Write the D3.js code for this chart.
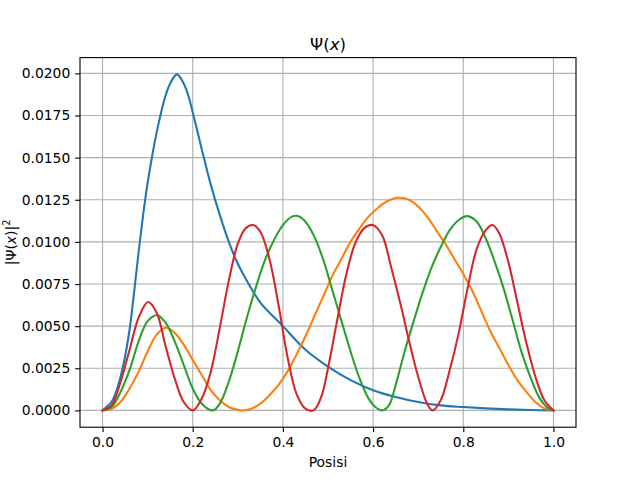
<!DOCTYPE html>
<html>
<head>
<meta charset="utf-8">
<script src="https://cdn.jsdelivr.net/npm/d3@7/dist/d3.min.js"></script>
<style>
  html, body { margin: 0; padding: 0; background: #fff; }
  svg { display: block; }
  text { font-family: "DejaVu Sans", sans-serif; }
</style>
</head>
<body>
<svg id="chart" width="640" height="480"></svg>
<script>
// ---- data ----
const titleText = "Ψ(x)";
const xLabel = "Posisi";
const xTicks = [0.0, 0.2, 0.4, 0.6, 0.8, 1.0];
const xTickLabels = ["0.0", "0.2", "0.4", "0.6", "0.8", "1.0"];
const yTicks = [0, 0.0025, 0.005, 0.0075, 0.01, 0.0125, 0.015, 0.0175, 0.02];
const yTickLabels = ["0.0000", "0.0025", "0.0050", "0.0075", "0.0100", "0.0125", "0.0150", "0.0175", "0.0200"];

const blueX = [0, 0.02, 0.03, 0.04, 0.05, 0.06, 0.07, 0.08, 0.09, 0.10, 0.11, 0.12, 0.13, 0.14, 0.15, 0.165, 0.18, 0.19, 0.20, 0.22, 0.24, 0.26, 0.28, 0.30, 0.32, 0.35, 0.40, 0.45, 0.50, 0.55, 0.60, 0.65, 0.70, 0.75, 0.80, 0.85, 0.90, 0.95, 1.0];
const blueY = [0, 0.0005, 0.0011, 0.0020, 0.0032, 0.0048, 0.0070, 0.0094, 0.0116, 0.0135, 0.0151, 0.0165, 0.0177, 0.0187, 0.0194, 0.01994, 0.0194, 0.0187, 0.0177, 0.0155, 0.0134, 0.0116, 0.0100, 0.0087, 0.0077, 0.0064, 0.0050, 0.0036, 0.0026, 0.0018, 0.0012, 0.0008, 0.0005, 0.0003, 0.0002, 0.00012, 0.00006, 0.00002, 0];

const orangeX = [0, 0.02, 0.04, 0.06, 0.08, 0.10, 0.12, 0.141, 0.16, 0.18, 0.20, 0.22, 0.24, 0.26, 0.28, 0.30, 0.315, 0.33, 0.35, 0.37, 0.39, 0.41, 0.43, 0.45, 0.47, 0.49, 0.51, 0.53, 0.55, 0.57, 0.59, 0.61, 0.63, 0.656, 0.68, 0.70, 0.72, 0.74, 0.76, 0.78, 0.80, 0.82, 0.84, 0.86, 0.88, 0.90, 0.92, 0.94, 0.96, 0.98, 1.0];
const orangeY = [0, 0.0001, 0.0005, 0.0013, 0.0023, 0.0035, 0.0045, 0.0049, 0.0046, 0.0039, 0.0030, 0.0021, 0.0012, 0.0006, 0.0002, 0.00003, 0, 0.0001, 0.0004, 0.0009, 0.0015, 0.0023, 0.0033, 0.0044, 0.0056, 0.0068, 0.0080, 0.0090, 0.0100, 0.0108, 0.0115, 0.0120, 0.0124, 0.01262, 0.0125, 0.0121, 0.0115, 0.0107, 0.0099, 0.0090, 0.0081, 0.0071, 0.0059, 0.0047, 0.0037, 0.0027, 0.0018, 0.0011, 0.0005, 0.00012, 0];

const greenX = [0, 0.02, 0.04, 0.06, 0.08, 0.10, 0.121, 0.14, 0.16, 0.18, 0.20, 0.22, 0.245, 0.26, 0.28, 0.30, 0.32, 0.34, 0.36, 0.38, 0.40, 0.42, 0.433, 0.45, 0.47, 0.49, 0.51, 0.53, 0.55, 0.57, 0.59, 0.605, 0.62, 0.635, 0.65, 0.67, 0.69, 0.71, 0.73, 0.75, 0.77, 0.79, 0.809, 0.83, 0.85, 0.87, 0.89, 0.91, 0.93, 0.95, 0.97, 0.99, 1.0];
const greenY = [0, 0.0002, 0.0011, 0.0024, 0.0041, 0.0053, 0.00565, 0.0052, 0.0041, 0.0027, 0.0013, 0.0004, 0, 0.0004, 0.0017, 0.0035, 0.0055, 0.0073, 0.0089, 0.0101, 0.0110, 0.0115, 0.01153, 0.0112, 0.0103, 0.0089, 0.0071, 0.0053, 0.0035, 0.0019, 0.0007, 0.0002, 0, 0.0003, 0.0015, 0.0035, 0.0053, 0.0070, 0.0085, 0.0097, 0.0107, 0.0113, 0.01153, 0.0112, 0.0102, 0.0088, 0.0072, 0.0053, 0.0034, 0.0019, 0.0007, 0.0001, 0];

const redX = [0, 0.02, 0.04, 0.06, 0.08, 0.101, 0.12, 0.14, 0.16, 0.18, 0.20, 0.22, 0.24, 0.26, 0.28, 0.30, 0.317, 0.334, 0.35, 0.37, 0.39, 0.41, 0.43, 0.45, 0.468, 0.485, 0.50, 0.52, 0.54, 0.56, 0.58, 0.599, 0.62, 0.64, 0.66, 0.68, 0.70, 0.72, 0.732, 0.75, 0.77, 0.79, 0.81, 0.83, 0.85, 0.865, 0.88, 0.90, 0.92, 0.94, 0.96, 0.98, 1.0];
const redY = [0, 0.0003, 0.0017, 0.0036, 0.0055, 0.00643, 0.0058, 0.0038, 0.0019, 0.0005, 0, 0.0007, 0.0023, 0.0049, 0.0077, 0.0099, 0.0108, 0.0110, 0.0106, 0.0090, 0.0063, 0.0032, 0.0010, 0.0001, 0, 0.0008, 0.0025, 0.0053, 0.0080, 0.0099, 0.0108, 0.0110, 0.0104, 0.0085, 0.0064, 0.0041, 0.0020, 0.0004, 0, 0.0006, 0.0024, 0.0046, 0.0073, 0.0096, 0.0107, 0.0110, 0.0105, 0.0088, 0.0064, 0.0040, 0.0020, 0.0006, 0];

const seriesList = [
  { name: "n1", xs: blueX, ys: blueY, color: "#1f77b4" },
  { name: "n2", xs: orangeX, ys: orangeY, color: "#ff7f0e" },
  { name: "n3", xs: greenX, ys: greenY, color: "#2ca02c" },
  { name: "n4", xs: redX, ys: redY, color: "#d62728" }
];

// ---- layout ----
const W = 640, H = 480;
const axL = 80, axR = 576, axT = 57.6, axB = 427.2;
const pt = 100 / 72;
const fs = 10 * pt;

const svg = d3.select("#chart");
svg.append("rect").attr("width", W).attr("height", H).attr("fill", "#fff");

const yMax = d3.max(blueY);
const yPad = 0.05 * yMax;
const x = d3.scaleLinear().domain([-0.05, 1.05]).range([axL, axR]);
const y = d3.scaleLinear().domain([-yPad, yMax + yPad]).range([axB, axT]);

// grid
const grid = svg.append("g");
grid.selectAll("line.gx").data(xTicks).join("line")
  .attr("x1", d => x(d)).attr("x2", d => x(d))
  .attr("y1", axT).attr("y2", axB)
  .attr("stroke", "#b0b0b0").attr("stroke-width", 0.8 * pt);
grid.selectAll("line.gy").data(yTicks).join("line")
  .attr("x1", axL).attr("x2", axR)
  .attr("y1", d => y(d)).attr("y2", d => y(d))
  .attr("stroke", "#b0b0b0").attr("stroke-width", 0.8 * pt);

// clip
svg.append("clipPath").attr("id", "clip").append("rect")
  .attr("x", axL).attr("y", axT).attr("width", axR - axL).attr("height", axB - axT);

const line = d3.line().curve(d3.curveCatmullRom.alpha(0.5));
const plot = svg.append("g").attr("clip-path", "url(#clip)");
seriesList.forEach(s => {
  const pts = s.xs.map((xv, i) => [x(xv), y(s.ys[i])]);
  plot.append("path").attr("d", line(pts))
    .attr("fill", "none").attr("stroke", s.color)
    .attr("stroke-width", 1.5 * pt).attr("stroke-linejoin", "round").attr("stroke-linecap", "square");
});

// axes
const xAxis = d3.axisBottom(x).tickValues(xTicks).tickFormat((d, i) => xTickLabels[i])
  .tickSizeInner(3.5 * pt).tickSizeOuter(0).tickPadding(3.5 * pt);
const yAxis = d3.axisLeft(y).tickValues(yTicks).tickFormat((d, i) => yTickLabels[i])
  .tickSizeInner(3.5 * pt).tickSizeOuter(0).tickPadding(3.5 * pt);

const gx = svg.append("g").attr("transform", `translate(0,${axB})`).call(xAxis);
const gy = svg.append("g").attr("transform", `translate(${axL},0)`).call(yAxis);
[gx, gy].forEach(g => {
  g.select(".domain").remove();
  g.selectAll(".tick line").attr("stroke", "#000").attr("stroke-width", 0.8 * pt);
  g.selectAll(".tick text").attr("fill", "#000").attr("font-size", fs).attr("font-family", "DejaVu Sans");
});

// spines
svg.append("rect").attr("x", axL).attr("y", axT).attr("width", axR - axL).attr("height", axB - axT)
  .attr("fill", "none").attr("stroke", "#000").attr("stroke-width", 0.8 * pt);

// title
const t = svg.append("text").attr("x", (axL + axR) / 2).attr("y", 49.5)
  .attr("text-anchor", "middle").attr("font-size", 12 * pt).attr("fill", "#000");
t.append("tspan").text("Ψ(");
t.append("tspan").attr("font-style", "italic").text("x");
t.append("tspan").text(")");

// x label
svg.append("text").attr("x", (axL + axR) / 2).attr("y", 467)
  .attr("text-anchor", "middle").attr("font-size", fs).attr("fill", "#000").text(xLabel);

// y label
const yl = svg.append("text").attr("transform", `translate(16,${(axT + axB) / 2}) rotate(-90)`)
  .attr("text-anchor", "middle").attr("font-size", fs).attr("fill", "#000");
yl.append("tspan").text("|Ψ(");
yl.append("tspan").attr("font-style", "italic").text("x");
yl.append("tspan").text(")|");
yl.append("tspan").attr("font-size", fs * 0.7).attr("dy", -6).text("2");
</script>
</body>
</html>
